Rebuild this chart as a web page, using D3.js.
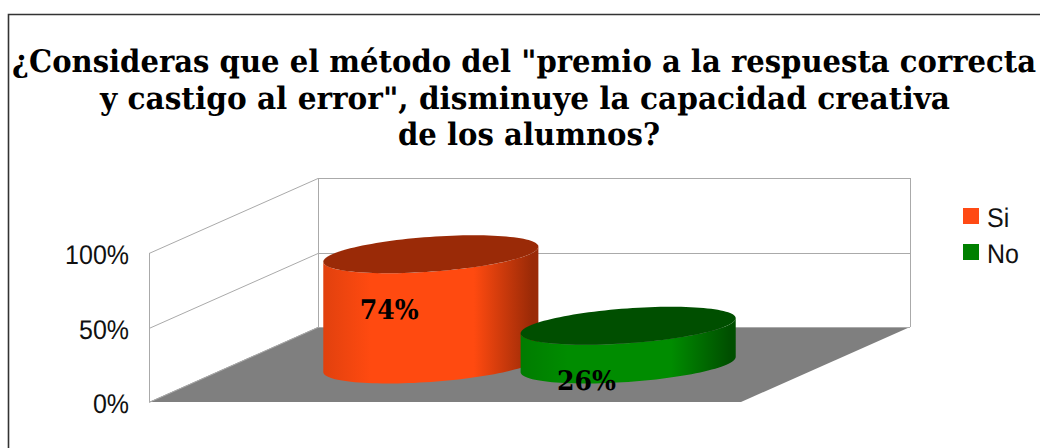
<!DOCTYPE html>
<html>
<head>
<meta charset="utf-8">
<script src="https://cdn.jsdelivr.net/npm/d3@7"></script>
<style>
  html, body { margin: 0; padding: 0; background: #fff; overflow: hidden; }
  svg { display: block; }
  text { text-rendering: geometricPrecision; }
  .title { font-family: "DejaVu Serif", serif; font-weight: bold; fill: #000; }
  .tick text, .legend text { font-family: "Liberation Sans", Arial, sans-serif; font-size: 27px; fill: #111; }
</style>
</head>
<body>
<svg width="1040" height="448"></svg>
<script>
var titleLines = ['¿Consideras que el método del "premio a la respuesta correcta', 'y castigo al error", disminuye la capacidad creativa', 'de los alumnos?'];
var titleWidths = [1024, 850, 262];
var categories = ["Si", "No"];
var values = [0.74, 0.26];
var yTicks = [0, 0.5, 1];
var colors = ["#ff4a10", "#008c00"];
var topColors = ["#9a2a07", "#004f00"];
var legendColors = ["#ff4a14", "#008000"];

var svg = d3.select("svg");

// floor front edge and how far the back wall is shifted from it
var x0 = 149, x1 = 741, yBase = 402, yTop = 253;
var depthX = 169, depthY = -75;

var x = d3.scalePoint().domain(categories).range([x0, x1]).padding(1);
var y = d3.scaleLinear().domain([0, 1]).range([yBase, yTop]);
var color = d3.scaleOrdinal().domain(categories).range(colors);
var topColor = d3.scaleOrdinal().domain(categories).range(topColors);

// the sans labels of the original are a bit narrower than the font
function squeeze(sel) {
  sel.attr("textLength", function() { return this.getComputedTextLength() * 0.925; })
     .attr("lengthAdjust", "spacingAndGlyphs");
}

// frame, only top and left are visible
svg.append("path")
    .attr("d", "M1040,14.5H8.5V448")
    .attr("fill", "none")
    .attr("stroke", "#333")
    .attr("stroke-width", 1.6);

// title, DejaVu Serif is wider than the original font so scale each line to its width
svg.selectAll(".title")
    .data(titleLines)
    .enter().append("text")
    .attr("class", "title")
    .attr("text-anchor", "middle")
    .attr("font-size", 31)
    .text(function(d) { return d; })
    .attr("transform", function(d, i) {
      var tx = i == 0 ? 524 : (i == 1 ? 525 : 529);
      var sx = titleWidths[i] / this.getComputedTextLength();
      return "translate(" + tx + "," + (72 + i * 36.5) + ") scale(" + sx + ",1)";
    });

// floor
svg.append("path")
    .attr("d", d3.line()([[x0, yBase], [x0 + depthX, yBase + depthY], [x1 + depthX, yBase + depthY], [x1, yBase]]) + "Z")
    .attr("fill", "#7f7f7f");

// walls and grid
var wall = svg.append("g").attr("fill", "none").attr("stroke", "#aaa").attr("stroke-width", 1);
wall.selectAll("path")
    .data(yTicks)
    .enter().append("path")
    .attr("d", function(d) {
      var yy = Math.round(y(d)) + 0.5;
      return "M" + x0 + "," + yy + "L" + (x0 + depthX) + "," + (yy + depthY) + "H" + (x1 + depthX);
    });
wall.append("path")
    .attr("d", "M" + (x0 + 0.5) + "," + yBase + "V" + yTop);
wall.append("path")
    .attr("d", "M" + (x0 + depthX + 0.5) + "," + (yBase + depthY) + "V" + (yTop + depthY));
wall.append("path")
    .attr("d", "M" + (x1 + depthX + 0.5) + "," + (yBase + depthY) + "V" + (yTop + depthY));

// y axis
var yAxis = d3.axisLeft(y).tickValues(yTicks).tickFormat(d3.format(".0%")).tickSize(0).tickPadding(20);
svg.append("g")
    .attr("transform", "translate(" + x0 + ",2)")
    .call(yAxis)
    .call(function(g) { g.select(".domain").remove(); })
    .selectAll("text").call(squeeze);

// gradients for the cylinder sides
var defs = svg.append("defs");
categories.forEach(function(c, i) {
  var g = defs.append("linearGradient").attr("id", "side" + i);
  var base = d3.color(color(c));
  var stops = [[0, base.darker(0.35)], [0.22, base], [0.7, base], [0.97, d3.color(topColor(c))], [1, d3.color(topColor(c))]];
  stops.forEach(function(s) {
    g.append("stop").attr("offset", s[0]).attr("stop-color", s[1].formatHex());
  });
});

// cylinders stand on a circle lying in the floor plane
var radiusX = x.step() * 0.5, radiusD = 0.2533;
var mid = 0.5; // cylinders are centred halfway in depth

function ellipsePoint(cx, cy, t) {
  return [cx + radiusX * Math.cos(t) + radiusD * depthX * Math.sin(t), cy + radiusD * depthY * Math.sin(t)];
}

var bars = svg.selectAll(".bar")
    .data(categories)
    .enter().append("g")
    .attr("class", "bar");

bars.append("path")
    .attr("fill", function(d, i) { return "url(#side" + i + ")"; })
    .attr("d", function(d, i) {
      var cx = x(d) + depthX * mid;
      var yB = y(0) + depthY * mid, yT = y(values[i]) + depthY * mid;
      var tl = Math.atan2(radiusD * depthX, radiusX); // angle of the right most point
      var angles = d3.range(0, 61).map(function(k) { return tl - Math.PI * k / 60; });
      var upper = angles.map(function(t) { return ellipsePoint(cx, yT, t); });
      var lower = angles.slice().reverse().map(function(t) { return ellipsePoint(cx, yB, t); });
      return d3.line()(upper.concat(lower)) + "Z";
    });

bars.append("path")
    .attr("fill", function(d) { return topColor(d); })
    .attr("d", function(d, i) {
      var cx = x(d) + depthX * mid, yT = y(values[i]) + depthY * mid;
      var pts = d3.range(0, 120).map(function(k) { return ellipsePoint(cx, yT, k / 120 * 2 * Math.PI); });
      return d3.line()(pts) + "Z";
    });

// data labels
svg.selectAll(".label")
    .data(categories)
    .enter().append("text")
    .attr("class", "label")
    .attr("x", function(d) { return x(d) + radiusD * depthX; })
    .attr("y", function(d, i) { return y(values[i]) + 27; })
    .attr("text-anchor", "middle")
    .attr("font-family", "'DejaVu Serif', serif")
    .attr("font-weight", "bold")
    .attr("font-size", 27)
    .attr("textLength", 59)
    .attr("lengthAdjust", "spacingAndGlyphs")
    .attr("fill", "#000")
    .text(function(d, i) { return d3.format(".0%")(values[i]); });

// legend
var legend = svg.append("g").attr("class", "legend")
    .selectAll("g")
    .data(categories)
    .enter().append("g")
    .attr("transform", function(d, i) { return "translate(963," + (208 + i * 36) + ")"; });
legend.append("rect")
    .attr("width", 16)
    .attr("height", 16)
    .attr("fill", function(d, i) { return legendColors[i]; });
legend.append("text")
    .attr("x", 24)
    .attr("y", 19)
    .text(function(d) { return d; })
    .call(squeeze);
</script>
</body>
</html>
